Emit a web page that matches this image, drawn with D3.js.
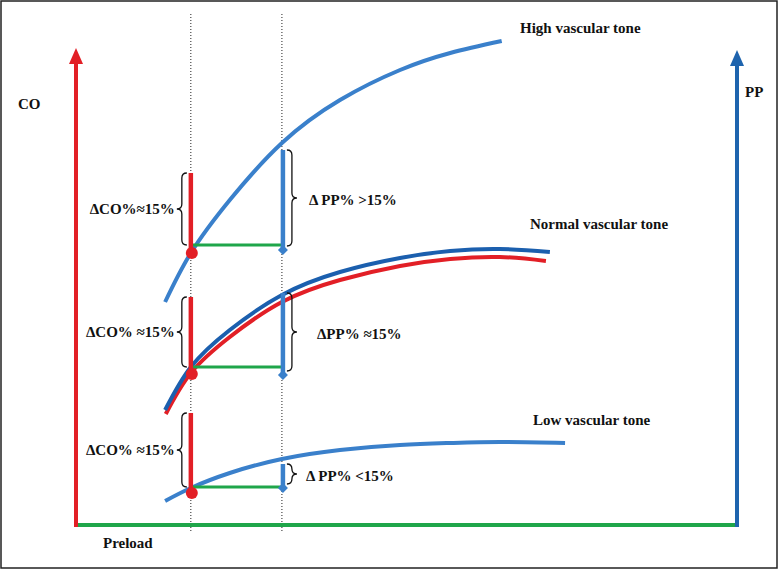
<!DOCTYPE html>
<html><head><meta charset="utf-8">
<script src="https://cdn.jsdelivr.net/npm/d3@7"></script>
<style>html,body{margin:0;padding:0;background:#fff}svg{display:block}</style>
</head><body>
<svg id="c" width="779" height="570"></svg>
<script>
// ---- data (arbitrary preload / output units) ----
const preloadMarks = [17.4, 31.2];            // two preload levels (dotted lines)
const toneLabels = ["High vascular tone", "Normal vascular tone", "Low vascular tone"];
const highX   = [13.5, 17.4, 23.3, 31.2, 40.0, 49.1, 56.7, 64.5];
const highPP  = [44.4, 54.2, 64.8, 76.2, 84.8, 90.8, 94.2, 96.6];
const normX   = [13.5, 17.4, 23.3, 31.2, 40.0, 49.1, 56.7, 64.2, 71.8];
const normPP  = [22.8, 31.4, 38.8, 45.8, 50.4, 53.2, 54.6, 55.0, 54.4];
const normCOx = [13.6, 17.4, 23.3, 31.2, 40.0, 49.1, 56.7, 64.2, 71.2];
const normCO  = [22.0, 30.2, 37.4, 44.4, 48.8, 51.6, 53.0, 53.4, 52.6];
const lowX    = [13.5, 17.4, 23.3, 31.2, 40.0, 49.1, 56.7, 64.2, 74.1];
const lowPP   = [4.6, 7.2, 10.2, 13.0, 14.8, 15.8, 16.2, 16.4, 16.2];
const coBase  = [55.8, 31.4, 7.4];
const coTop   = [70.2, 45.4, 22.2];
const dotVal  = [54.2, 30.0, 6.2];
const ppTop   = [74.8, 46.2, 12.0];
const ppBot   = [54.8, 29.8, 7.2];
const coLabels = ["\u0394CO%\u224815%", "\u0394CO% \u224815%", "\u0394CO% \u224815%"];
const ppLabels = ["\u0394 PP% >15%", "\u0394PP% \u224815%", "\u0394 PP% <15%"];
const axisLabels = ["CO", "PP", "Preload"];

// ---- scales ----
const x = d3.scaleLinear().domain([0, 100]).range([76, 736]);
const y = d3.scaleLinear().domain([0, 100]).range([524, 24]);

const RED = "#e21f26", GREEN = "#1fa64a", BLUE = "#3a80cb", DBLUE = "#1b5fae", AXBLUE = "#1e64ae";
const FONT = "'Liberation Serif','DejaVu Serif','Times New Roman',serif";

const svg = d3.select("#c");
svg.append("rect").attr("x", 1).attr("y", 1).attr("width", 776).attr("height", 567)
  .attr("fill", "#fff").attr("stroke", "#222").attr("stroke-width", 1.5);

// dotted guide lines
svg.selectAll("line.guide").data(preloadMarks).join("line")
  .attr("x1", d => x(d)).attr("x2", d => x(d))
  .attr("y1", 14).attr("y2", 532)
  .attr("stroke", "#222").attr("stroke-width", 1).attr("stroke-dasharray", "1,2");

// axes
const x0 = x(0), y0 = y(0), xEnd = x(100);
svg.append("line").attr("x1", x0).attr("x2", xEnd + 2).attr("y1", y0 + 1).attr("y2", y0 + 1)
  .attr("stroke", GREEN).attr("stroke-width", 4);
svg.append("line").attr("x1", x0).attr("x2", x0).attr("y1", y0 + 3).attr("y2", 60)
  .attr("stroke", RED).attr("stroke-width", 4);
svg.append("path").attr("d", `M${x0},48 L${x0 - 7},64 L${x0 + 7},64 Z`).attr("fill", RED);
svg.append("line").attr("x1", xEnd + 1).attr("x2", xEnd + 1).attr("y1", y0 + 3).attr("y2", 62)
  .attr("stroke", AXBLUE).attr("stroke-width", 4);
svg.append("path").attr("d", `M${xEnd + 1},50 L${xEnd - 6},66 L${xEnd + 8},66 Z`).attr("fill", AXBLUE);

// curves
const line = d3.line().x(d => x(d[0])).y(d => y(d[1])).curve(d3.curveNatural);
const zip = (a, b) => a.map((v, i) => [v, b[i]]);
const curves = [
  {pts: zip(highX, highPP), c: BLUE},
  {pts: zip(normCOx, normCO), c: RED},
  {pts: zip(normX, normPP), c: DBLUE},
  {pts: zip(lowX, lowPP), c: BLUE}
];
svg.selectAll("path.curve").data(curves).join("path")
  .attr("d", d => line(d.pts)).attr("fill", "none")
  .attr("stroke", d => d.c).attr("stroke-width", 4);

const p1 = x(preloadMarks[0]), p2 = x(preloadMarks[1]);
const idx = [0, 1, 2];

// green segments
svg.selectAll("line.seg").data(idx).join("line")
  .attr("x1", p1).attr("x2", p2)
  .attr("y1", i => y(coBase[i])).attr("y2", i => y(coBase[i]))
  .attr("stroke", GREEN).attr("stroke-width", 3);

// CO bars
svg.selectAll("line.co").data(idx).join("line")
  .attr("x1", p1).attr("x2", p1)
  .attr("y1", i => y(coTop[i])).attr("y2", i => y(dotVal[i]))
  .attr("stroke", RED).attr("stroke-width", 4.5);
svg.selectAll("circle.dot").data(idx).join("circle")
  .attr("cx", p1 + 1).attr("cy", i => y(dotVal[i])).attr("r", 6).attr("fill", RED);

// PP bars
svg.selectAll("line.pp").data(idx).join("line")
  .attr("x1", p2 + 1).attr("x2", p2 + 1)
  .attr("y1", i => y(ppTop[i])).attr("y2", i => y(ppBot[i]))
  .attr("stroke", BLUE).attr("stroke-width", 4.5);
svg.selectAll("path.dia").data(idx).join("path")
  .attr("d", i => { const cx = p2 + 1, cy = y(ppBot[i]); return `M${cx},${cy - 5} L${cx + 5},${cy} L${cx},${cy + 5} L${cx - 5},${cy} Z`; })
  .attr("fill", BLUE);

// braces
function brace(xe, ya, yb, dir) {
  const xs = xe + dir * 5, tip = xe + dir * 10, m = (ya + yb) / 2, r = 5;
  return `M${xe},${ya} Q${xs},${ya} ${xs},${ya + r} L${xs},${m - r} Q${xs},${m} ${tip},${m} ` +
         `Q${xs},${m} ${xs},${m + r} L${xs},${yb - r} Q${xs},${yb} ${xe},${yb}`;
}
svg.selectAll("path.cob").data(idx).join("path")
  .attr("d", i => brace(p1 - 4, y(coTop[i]), y(coBase[i]), -1))
  .attr("fill", "none").attr("stroke", "#111").attr("stroke-width", 1.3);
svg.selectAll("path.ppb").data(idx).join("path")
  .attr("d", i => brace(p2 + 5, y(ppTop[i]), y(ppBot[i]) - 4, 1))
  .attr("fill", "none").attr("stroke", "#111").attr("stroke-width", 1.3);

// labels
const txt = (sel) => sel.attr("font-family", FONT).attr("font-weight", "bold")
  .attr("font-size", 15).attr("fill", "#111");
svg.selectAll("text.col").data(idx).join("text").call(txt)
  .attr("x", p1 - 16).attr("y", i => (y(coTop[i]) + y(coBase[i])) / 2 + 5)
  .attr("text-anchor", "end").text(i => coLabels[i]);
const ppDx = [27, 35, 24];
svg.selectAll("text.ppl").data(idx).join("text").call(txt)
  .attr("x", i => p2 + ppDx[i]).attr("y", i => (y(ppTop[i]) + y(ppBot[i]) - 4) / 2 + 7)
  .text(i => ppLabels[i]);

// tone labels
const toneX = [520, 530, 533], toneY = [33, 229, 425];
svg.selectAll("text.tone").data(idx).join("text").call(txt)
  .attr("x", i => toneX[i]).attr("y", i => toneY[i]).text(i => toneLabels[i]);

svg.append("text").call(txt).attr("x", 18).attr("y", 109).text(axisLabels[0]);
svg.append("text").call(txt).attr("x", 745).attr("y", 97).text(axisLabels[1]);
svg.append("text").call(txt).attr("x", 103).attr("y", 548).text(axisLabels[2]);
</script>
</body></html>
